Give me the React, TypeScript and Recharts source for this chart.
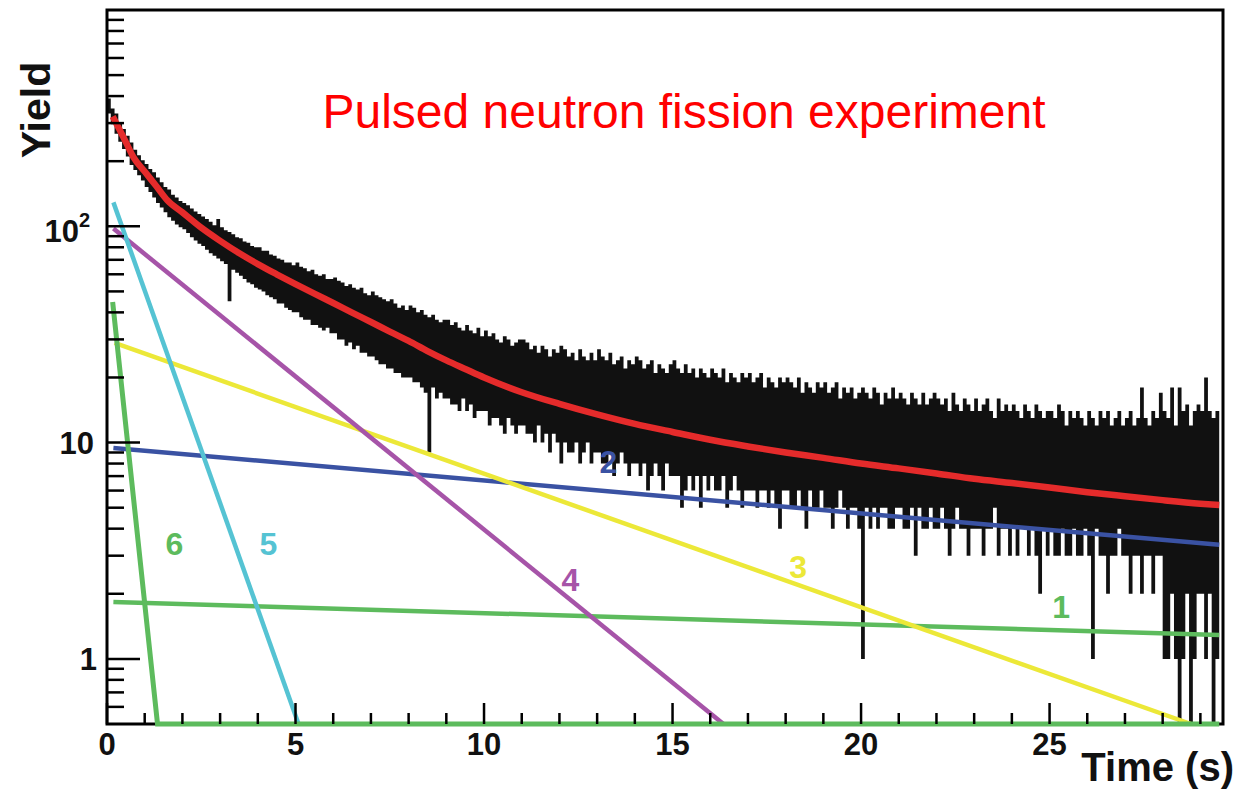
import {
  Area,
  ComposedChart,
  Line,
  ReferenceArea,
  ReferenceDot,
  XAxis,
  YAxis,
} from "recharts";

// histogram (counts per 0.1 s bin), upper and lower envelope of the black band
const binWidth = 0.1;
// prettier-ignore
const histHigh = [
  390, 350, 332, 302, 282, 262, 244, 226, 213, 202,
  194, 184, 178, 168, 160, 152, 148, 140, 136, 131,
  128, 125, 121, 117, 114, 111, 108, 105, 101, 108,
  99, 96, 94, 92, 89, 88, 85, 84, 81, 80,
  80, 77, 77, 74, 73, 71, 70, 68, 68, 66,
  68, 65, 64, 62, 63, 60, 59, 60, 57, 57,
  58, 56, 55, 53, 54, 52, 51, 52, 49, 48,
  50, 48, 47, 46, 45, 46, 44, 42, 43, 41,
  43, 42, 40, 41, 39, 38, 39, 37, 36, 37,
  37, 35, 36, 34, 33, 35, 33, 32, 34, 31,
  33, 31, 32, 30, 29, 31, 30, 28, 29, 30,
  30, 29, 27, 28, 26, 28, 27, 25, 27, 26,
  28, 27, 25, 26, 24, 27, 25, 24, 26, 24,
  27, 25, 24, 26, 23, 24, 25, 22, 24, 23,
  25, 24, 22, 23, 24, 21, 23, 22, 21, 23,
  24, 22, 21, 23, 21, 22, 20, 22, 21, 20,
  22, 21, 20, 22, 19, 21, 20, 19, 21, 20,
  21, 19, 20, 21, 18, 20, 19, 18, 20, 19,
  20, 19, 18, 20, 17, 19, 18, 17, 19, 18,
  19, 17, 18, 19, 16, 18, 17, 18, 16, 17,
  18, 17, 16, 18, 17, 15, 17, 16, 18, 16,
  17, 16, 15, 17, 16, 15, 17, 15, 16, 17,
  16, 15, 16, 14, 17, 15, 14, 16, 15, 14,
  16, 14, 15, 16, 14, 13, 16, 14, 15, 14,
  15, 14, 13, 15, 14, 13, 15, 14, 13, 14,
  14, 13, 15, 14, 12, 14, 13, 14, 13, 12,
  14, 13, 12, 14, 13, 14, 12, 13, 14, 12,
  13, 14, 12, 13, 18, 13, 12, 14, 13, 17,
  14, 13, 18, 12, 18, 14, 15, 12, 14, 15,
  14, 20, 14, 13, 14,
];
// prettier-ignore
const histLow = [
  332, 296, 268, 246, 228, 210, 192, 182, 172, 163,
  152, 144, 136, 128, 122, 116, 110, 106, 102, 99,
  97, 93, 89, 86, 83, 81, 78, 75, 73, 71,
  69, 67, 45, 63, 61, 59, 57, 55, 54, 52,
  51, 50, 48, 47, 46, 44, 44, 42, 41, 40,
  40, 38, 37, 37, 35, 35, 34, 33, 34, 32,
  32, 30, 30, 28, 29, 27, 28, 26, 26, 25,
  25, 24, 23, 23, 22, 22, 21, 21, 20, 20,
  20, 19, 19, 18, 17, 9, 18, 16, 17, 16,
  16, 15, 15, 14, 16, 14, 15, 13, 14, 14,
  14, 12, 13, 13, 12, 11, 13, 12, 11, 12,
  12, 11, 11, 10, 12, 10, 11, 9, 11, 10,
  8, 10, 9, 9, 10, 8, 9, 10, 8, 9,
  9, 8, 8, 9, 7, 8, 9, 8, 7, 8,
  8, 7, 8, 6, 7, 8, 7, 6, 8, 7,
  7, 7, 5, 6, 7, 6, 7, 5, 7, 6,
  7, 6, 6, 7, 5, 6, 7, 6, 5, 6,
  6, 6, 5, 6, 6, 5, 6, 5, 4, 6,
  6, 5, 5, 6, 5, 4, 6, 5, 5, 6,
  5, 5, 4, 5, 6, 5, 4, 5, 5, 4,
  1, 5, 4, 5, 4, 5, 5, 4, 4, 5,
  5, 4, 4, 5, 3, 5, 4, 4, 5, 4,
  4, 5, 4, 3, 4, 5, 4, 4, 3, 4,
  4, 4, 3, 4, 4, 5, 3, 4, 4, 3,
  4, 3, 4, 4, 3, 4, 3, 2, 4, 3,
  4, 3, 3, 4, 3, 3, 4, 3, 3, 4,
  3, 1, 4, 3, 3, 2, 3, 3, 4, 3,
  3, 2, 3, 3, 2, 3, 3, 2, 3, 3,
  1, 1, 2, 1, 0.5, 1, 2, 0.5, 1, 2,
  2, 1, 2, 0.5, 1,
];

// total fit (red)
const fitTimes = [
  0.15, 0.3, 0.5, 0.7, 1.0, 1.3, 1.6, 2.0, 2.5, 3.0, 3.5, 4.0, 4.5, 5.0, 5.5,
  6.0, 6.5, 7.0, 7.5, 8.0, 8.5, 9.0, 9.5, 10, 11, 12, 13, 14, 15, 16, 17, 18,
  19, 20, 21, 22, 23, 24, 25, 26, 27, 28, 29, 29.5,
];
const fitValues = [
  322, 287, 245, 209, 179, 154, 132, 116, 98.5, 85.6, 75.2, 66.9, 60, 54, 48.8,
  44.2, 39.9, 36.1, 32.6, 29.5, 26.5, 24, 21.9, 20, 17.1, 15.1, 13.5, 12.2,
  11.2, 10.3, 9.6, 9.0, 8.5, 8.0, 7.6, 7.2, 6.8, 6.5, 6.2, 5.9, 5.65, 5.42,
  5.22, 5.14,
];

// delayed neutron groups 1..6
const groupNames = ["1", "2", "3", "4", "5", "6"];
const groupTimes = [
  [0.17, 29.5],
  [0.17, 29.5],
  [0.2, 28.75],
  [0.17, 16.35],
  [0.17, 5.08],
  [0.15, 1.34, 29.5],
];
const groupValues = [
  [1.83, 1.29],
  [9.45, 3.37],
  [28.9, 0.5],
  [97.6, 0.5],
  [129, 0.5],
  [44.7, 0.5, 0.5],
];
// where the group numbers sit (time, yield)
const labelTimes = [25.31, 13.3, 18.33, 12.29, 4.28, 1.79];
const labelValues = [1.74, 8.14, 2.66, 2.32, 3.4, 3.4];

const xTicks = Array.from({ length: 30 }, (_, i) => i);
const xMajor = [0, 5, 10, 15, 20, 25];
const yTicks = [
  0.6, 0.7, 0.8, 0.9, 1, 2, 3, 4, 5, 6, 7, 8, 9, 10, 20, 30, 40, 50, 60, 70,
  80, 90, 100, 200, 300, 400, 500, 600, 700, 800, 900,
];

const GROUP_COLORS: Record<string, string> = {
  "1": "#5dbb5d",
  "2": "#3a52a3",
  "3": "#ece838",
  "4": "#a654a8",
  "5": "#55c3d3",
  "6": "#5dbb5d",
};
const FONT = "'Liberation Sans', Arial, Helvetica, sans-serif";

const histData = histHigh.map((hi, i) => ({
  t: +(i * binWidth).toFixed(1),
  band: [histLow[i], hi],
}));
histData.push({
  t: +(histHigh.length * binWidth).toFixed(1),
  band: [histLow[histLow.length - 1], histHigh[histHigh.length - 1]],
});
const fitData = fitTimes.map((t, i) => ({ t, v: fitValues[i] }));

function XTick(props: any) {
  const { x, y, payload } = props;
  const major = xMajor.includes(payload.value);
  return (
    <g>
      <line x1={x} x2={x} y1={y} y2={y - (major ? 21 : 11)} stroke="#000" strokeWidth={2.5} />
      {major && (
        <text x={x} y={y + 31} textAnchor="middle" fontSize={31} fontWeight="bold" fontFamily={FONT} fill="#111">
          {payload.value}
        </text>
      )}
    </g>
  );
}

function YTick(props: any) {
  const { x, y, payload } = props;
  const v = payload.value;
  const major = v === 1 || v === 10 || v === 100;
  let label = null;
  if (v === 100) {
    label = (
      <text x={x - 17} y={y + 16} textAnchor="end" fontSize={31} fontWeight="bold" fontFamily={FONT} fill="#111">
        10
        <tspan dy={-15} fontSize={20}>2</tspan>
      </text>
    );
  } else if (v === 10 || v === 1) {
    label = (
      <text x={x - (v === 1 ? 10 : 13)} y={y + 11} textAnchor="end" fontSize={31} fontWeight="bold" fontFamily={FONT} fill="#111">
        {v}
      </text>
    );
  }
  return (
    <g>
      <line x1={x} x2={x + (major ? 33 : 17)} y1={y} y2={y} stroke="#000" strokeWidth={2.5} />
      {label}
    </g>
  );
}

export default function App() {
  return (
    <div style={{ position: "absolute", left: 0, top: 0, width: 1240, height: 789, background: "#fff" }}>
      <ComposedChart width={1240} height={789} margin={{ top: 10, right: 17, bottom: 0, left: 0 }}>
        <XAxis
          type="number"
          dataKey="t"
          domain={[0, 29.6]}
          ticks={xTicks}
          interval={0}
          tick={<XTick />}
          tickLine={false}
          axisLine={false}
          tickSize={0}
          tickMargin={0}
          height={65}
        />
        <YAxis
          type="number"
          scale="log"
          domain={[0.5, 1000]}
          ticks={yTicks}
          interval={0}
          tick={<YTick />}
          tickLine={false}
          axisLine={false}
          tickSize={0}
          tickMargin={0}
          width={107}
        />
        <Area
          data={histData}
          dataKey="band"
          type="stepAfter"
          fill="#111"
          fillOpacity={1}
          stroke="none"
          dot={false}
          activeDot={false}
          isAnimationActive={false}
        />
        {groupNames.map((name, gi) => (
          <Line
            key={name}
            data={groupTimes[gi].map((t, i) => ({ t, v: groupValues[gi][i] }))}
            dataKey="v"
            type="linear"
            stroke={GROUP_COLORS[name]}
            strokeWidth={name === "6" ? 5 : 4.5}
            dot={false}
            activeDot={false}
            isAnimationActive={false}
          />
        ))}
        <Line
          data={fitData}
          dataKey="v"
          type="monotone"
          stroke="#e52b2b"
          strokeWidth={6.5}
          dot={false}
          activeDot={false}
          isAnimationActive={false}
        />
        <ReferenceArea x1={0} x2={29.6} y1={0.5} y2={1000} fill="none" stroke="#000" strokeWidth={3} ifOverflow="visible" />
        {groupNames.map((name, gi) => (
          <ReferenceDot
            key={"lbl" + name}
            x={labelTimes[gi]}
            y={labelValues[gi]}
            r={0}
            shape={(p: any) => (
              <text
                x={p.cx}
                y={p.cy}
                textAnchor="middle"
                dominantBaseline="central"
                fontSize={32}
                fontWeight="bold"
                fontFamily={FONT}
                fill={GROUP_COLORS[name]}
              >
                {name}
              </text>
            )}
          />
        ))}
      </ComposedChart>
      <svg width={1240} height={789} style={{ position: "absolute", left: 0, top: 0, pointerEvents: "none" }}>
        <text x={684} y={128} textAnchor="middle" fontSize={48} fontFamily={FONT} fill="#ff0000">
          Pulsed neutron fission experiment
        </text>
        <text transform="translate(50,110) rotate(-90)" textAnchor="middle" fontSize={41} fontWeight="bold" fontFamily={FONT} fill="#111">
          Yield
        </text>
        <text x={1234} y={781} textAnchor="end" fontSize={40} fontWeight="bold" fontFamily={FONT} fill="#111">
          Time (s)
        </text>
      </svg>
    </div>
  );
}
